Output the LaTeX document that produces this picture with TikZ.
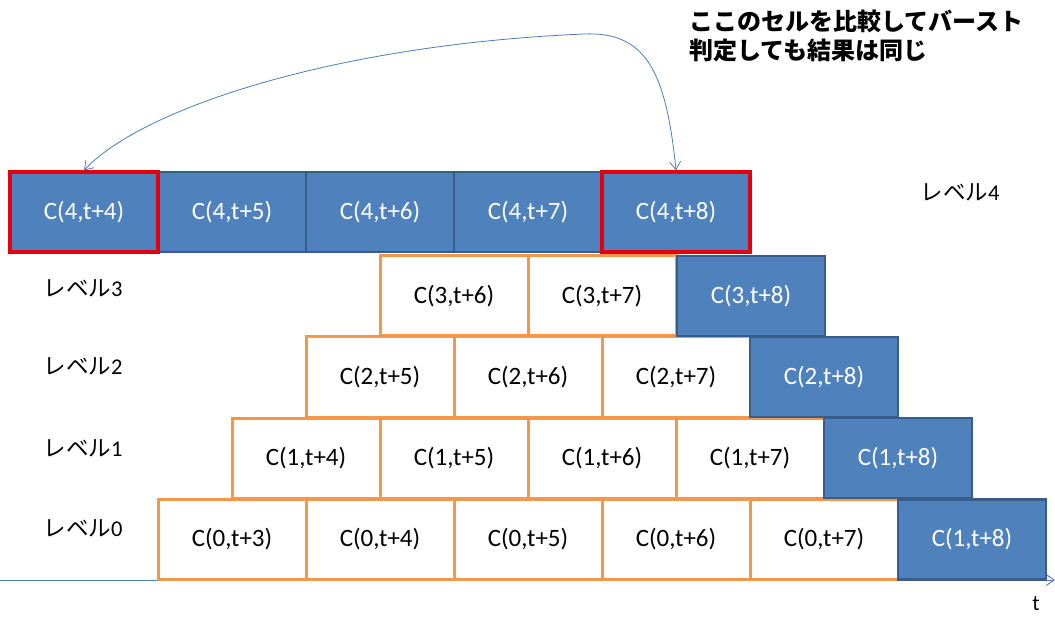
\documentclass[tikz,border=0pt]{standalone}
\usepackage{fontspec}
\usetikzlibrary{arrows.meta}
\newfontfamily\carl{Carlito}
\newfontfamily\cjk{Noto Sans CJK JP}
\definecolor{blueF}{HTML}{4F81BD}
\definecolor{blueD}{HTML}{385D8A}
\definecolor{orangeC}{HTML}{F79646}
\definecolor{redC}{HTML}{E3000F}
\definecolor{axisC}{HTML}{4A7EBB}
\tikzset{
  cellbase/.style={rectangle, minimum width=148pt, minimum height=80pt, inner sep=0pt,
    font=\carl\fontsize{25}{29}\selectfont},
  orangecell/.style={cellbase, draw=orangeC, line width=3pt, fill=white, text=black},
  bluecell/.style={cellbase, draw=blueD, line width=2.8pt, fill=blueF, text=white},
  redcell/.style={bluecell, draw=redC, line width=3.2pt},
  levellabel/.style={inner sep=0pt, font=\fontsize{22.5}{26}\selectfont},
  linkarrow/.style={draw=axisC, line width=0.8pt, {Straight Barb[length=8pt,width=11pt]}-{Straight Barb[length=8pt,width=11pt]}},
  axisline/.style={draw=axisC, line width=0.9pt, -{Straight Barb[length=8pt,width=11pt]}}
}
\newcommand{\lvl}[1]{{\cjk レベル}{\carl #1}}
\begin{document}
\begin{tikzpicture}[x=1pt,y=-1pt]
\useasboundingbox (0,0) rectangle (1055,620);
% axis
\coordinate (ax0) at (0,580);
\coordinate (ax1) at (1055,580);
\draw[axisline] (ax0) -- (ax1);
\node[inner sep=0pt, font=\carl\fontsize{22}{26}\selectfont] (tlab) at (1036,604) {t};
% orange cells
\node[orangecell] (c36) at (454,296) {C(3,t+6)};
\node[orangecell] (c37) at (602,296) {C(3,t+7)};
\node[orangecell] (c25) at (380,377) {C(2,t+5)};
\node[orangecell] (c26) at (528,377) {C(2,t+6)};
\node[orangecell] (c27) at (676,377) {C(2,t+7)};
\node[orangecell] (c14) at (306,458) {C(1,t+4)};
\node[orangecell] (c15) at (454,458) {C(1,t+5)};
\node[orangecell] (c16) at (602,458) {C(1,t+6)};
\node[orangecell] (c17) at (750,458) {C(1,t+7)};
\node[orangecell] (c03) at (232,539.5) {C(0,t+3)};
\node[orangecell] (c04) at (380,539.5) {C(0,t+4)};
\node[orangecell] (c05) at (528,539.5) {C(0,t+5)};
\node[orangecell] (c06) at (676,539.5) {C(0,t+6)};
\node[orangecell] (c07) at (824,539.5) {C(0,t+7)};
% blue cells
\node[bluecell] (c45) at (232,212) {C(4,t+5)};
\node[bluecell] (c46) at (380,212) {C(4,t+6)};
\node[bluecell] (c47) at (528,212) {C(4,t+7)};
\node[bluecell] (c38) at (751,296) {C(3,t+8)};
\node[bluecell] (c28) at (824,377) {C(2,t+8)};
\node[bluecell] (c18) at (898,458) {C(1,t+8)};
\node[bluecell] (c08) at (972,539.5) {C(1,t+8)};
% red-framed cells
\node[redcell] (c44) at (84,212) {C(4,t+4)};
\node[redcell] (c48) at (676,212) {C(4,t+8)};
% level labels
\node[levellabel] (l4) at (960,192) {\lvl{4}};
\node[levellabel] (l3) at (83,288) {\lvl{3}};
\node[levellabel] (l2) at (83,366) {\lvl{2}};
\node[levellabel] (l1) at (83,448) {\lvl{1}};
\node[levellabel] (l0) at (83,528) {\lvl{0}};
% note
\node[anchor=west, inner sep=0pt, align=left, font=\cjk\bfseries\fontsize{24}{29}\selectfont] (note) at (689,36)
  {ここのセルを比較してバースト\\判定しても結果は同じ};
% link arrow
\coordinate (peak) at (584,34);
\draw[linkarrow] (c44.north) .. controls (140,110) and (330,45) .. (peak)
  .. controls (645,31.4) and (666,70) .. (c48.north);
\end{tikzpicture}
\end{document}
